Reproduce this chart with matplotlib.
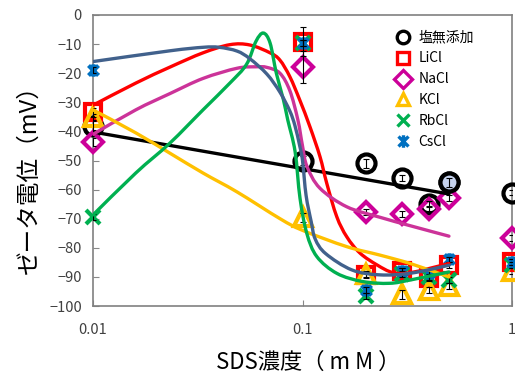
import matplotlib
matplotlib.use('Agg')
import numpy as np
import matplotlib.pyplot as plt
from matplotlib.path import Path
from matplotlib.patches import PathPatch

plt.rcParams['font.family'] = ['Noto Sans CJK JP', 'DejaVu Sans']

# SDS concentration (mM) of the measured points
sds = [0.01, 0.1, 0.2, 0.3, 0.4, 0.5, 1.0]

# zeta potential (mV) of the measured points
zeta_none = [-38, -50, -51, -56, -65, -57.5, -61]
zeta_licl = [-33.5, -9.2, -89.3, -87.8, -90.5, -86, -85]
zeta_nacl = [-43.6, -17.8, -67.7, -68.4, -66.5, -63, -76.6]
zeta_kcl = [-35, -69.5, -89, -96, -94.5, -93, -88]
zeta_rbcl = [-69.4, -9.5, -96.5, -89, -90, -91, -86]
zeta_cscl = [-19, -9.5, -94.5, -88, -88.5, -84, -85]

err_none = [1.5, 1.5, 1.5, 1, 1, 1.5, 1]
err_licl = [1.5, 5, 1, 1, 1, 1, 1]
err_nacl = [1.5, 5.5, 1, 1, 1, 1, 1]
err_kcl = [1, 1.5, 1, 1.5, 1, 1, 1]
err_rbcl = [1, 1, 1, 1, 1, 1, 1]
err_cscl = [1, 1, 1, 1, 1, 1, 1]

# trend curves
fit_none_x = [0.01, 0.087, 0.5]
fit_none_y = [-40.2, -52, -61.5]

fit_licl_x = [0.01, 0.016, 0.0233, 0.0335, 0.045, 0.056, 0.07, 0.078, 0.087,
              0.097, 0.1085, 0.1212, 0.1305, 0.1457, 0.1626, 0.188, 0.227,
              0.27, 0.33, 0.5]
fit_licl_y = [-31, -23.4, -17.9, -13, -10.2, -10.3, -13, -15.5, -21.2,
              -29.2, -38.4, -48.7, -57.8, -69.3, -76.2, -81.8, -85.9,
              -88.5, -88.5, -85.4]

fit_nacl_x = [0.01, 0.016, 0.0233, 0.0335, 0.0487, 0.06, 0.0676, 0.078, 0.087,
              0.095, 0.1, 0.105, 0.121, 0.1626, 0.234, 0.33, 0.5]
fit_nacl_y = [-41, -32.6, -27, -21.8, -18.3, -17.8, -18, -20, -26,
              -36, -45, -52, -59.5, -65.9, -69.5, -72.5, -76]

fit_kcl_x = [0.01, 0.016, 0.0233, 0.0335, 0.0487, 0.0781, 0.1, 0.1626,
             0.234, 0.33, 0.5]
fit_kcl_y = [-32.6, -40.5, -47.5, -54.3, -60.8, -70, -74, -79.6,
             -82.5, -85.5, -90]

fit_rbcl_x = [0.01, 0.016, 0.0233, 0.0335, 0.045, 0.054, 0.06, 0.065, 0.07,
              0.075, 0.081, 0.085, 0.0922, 0.0973, 0.1048, 0.117, 0.146,
              0.194, 0.26, 0.33, 0.5]
fit_rbcl_y = [-68.7, -54.3, -44, -32.6, -23.4, -17, -9, -6.2, -9.6,
              -20, -29, -36, -47, -63, -75, -83, -88.8,
              -91.6, -92.2, -91, -88.3]

fit_cscl_x = [0.01, 0.0233, 0.0335, 0.04, 0.0487, 0.056, 0.0676, 0.078,
              0.087, 0.092, 0.097, 0.1, 0.104, 0.11, 0.115, 0.129, 0.172,
              0.234, 0.33, 0.5]
fit_cscl_y = [-16, -12.3, -11.1, -11.1, -12.4, -15, -20.3, -26.5,
              -33, -38, -45, -50, -62, -71, -77, -82, -87.6,
              -89.3, -88.7, -86]

labels = ['塩無添加', 'LiCl', 'NaCl', 'KCl', 'RbCl', 'CsCl']

star = Path([(-1, -1), (1, 1), (-1, 1), (1, -1), (0, -1.25), (0, 1.25)],
            [Path.MOVETO, Path.LINETO, Path.MOVETO, Path.LINETO,
             Path.MOVETO, Path.LINETO])


def smooth_path(xs, ys):
    # Catmull-Rom curve through the read points, drawn as cubic Bezier (log x)
    u = np.log10(xs)
    y = np.asarray(ys, float)
    n = len(u)
    verts = [(xs[0], y[0])]
    codes = [Path.MOVETO]
    for i in range(n - 1):
        i0, i3 = max(i - 1, 0), min(i + 2, n - 1)
        c1 = (u[i] + (u[i + 1] - u[i0]) / 6, y[i] + (y[i + 1] - y[i0]) / 6)
        c2 = (u[i + 1] - (u[i3] - u[i]) / 6, y[i + 1] - (y[i3] - y[i]) / 6)
        verts += [(10 ** c1[0], c1[1]), (10 ** c2[0], c2[1]), (xs[i + 1], y[i + 1])]
        codes += [Path.CURVE4] * 3
    return Path(verts, codes)


series = [
    (zeta_none, err_none, 'o', 'black', 13, fit_none_x, fit_none_y, 'black'),
    (zeta_licl, err_licl, 's', '#ff0000', 11.5, fit_licl_x, fit_licl_y, '#ff0000'),
    (zeta_nacl, err_nacl, 'D', '#cc0099', 10, fit_nacl_x, fit_nacl_y, '#cc3399'),
    (zeta_kcl, err_kcl, '^', '#ffc000', 13, fit_kcl_x, fit_kcl_y, '#ffc000'),
    (zeta_rbcl, err_rbcl, 'x', '#00b050', 10, fit_rbcl_x, fit_rbcl_y, '#00b050'),
    (zeta_cscl, err_cscl, star, '#0070c0', 9, fit_cscl_x, fit_cscl_y, '#41618c'),
]

fig = plt.figure(figsize=(5.15, 3.74), dpi=100)
ax = fig.add_axes([0.1806, 0.1818, 0.8136, 0.7781])

for (y, e, m, c, ms, fx, fy, fc), lab in zip(series, labels):
    ax.plot(sds, y, linestyle='none', marker=m, markersize=ms,
            markerfacecolor='none', markeredgecolor=c, markeredgewidth=3,
            label=lab, zorder=3, clip_on=False)
    ax.errorbar(sds, y, yerr=e, fmt='none', ecolor='black', elinewidth=0.8,
                capsize=2, capthick=0.8, zorder=4)

# light-filled circle at 0.5 mM
ax.plot(sds[5], zeta_none[5], linestyle='none', marker='o', markersize=13,
        markerfacecolor='#c6d3ee', markeredgecolor='black', markeredgewidth=3,
        zorder=3.5)

for (y, e, m, c, ms, fx, fy, fc) in series:
    ax.add_patch(PathPatch(smooth_path(fx, fy), fill=False, edgecolor=fc,
                           linewidth=2.4, zorder=5, capstyle='round'))

ax.set_xscale('log')
ax.set_xlim(0.01, 1)
ax.set_ylim(-100, 0)
ax.set_yticks(range(-100, 1, 10))
ax.set_xticks([0.01, 0.1, 1])
ax.set_xticklabels(['0.01', '0.1', '1'])
ax.minorticks_off()
ax.tick_params(axis='both', direction='in', length=4, color='#888888',
               labelsize=10.5, labelcolor='#404040')
ax.tick_params(axis='y', pad=8)
ax.tick_params(axis='x', pad=12)
for s in ax.spines.values():
    s.set_color('#808080')
    s.set_linewidth(1.2)

# axis titles placed by figure position
fig.text(29 / 515, 1 - 174 / 374, 'ゼータ電位（mV）', fontsize=17,
         rotation=90, ha='center', va='center')
fig.text(308 / 515, 1 - 362 / 374, 'SDS濃度（ m M ）', fontsize=16,
         ha='center', va='center')

leg = ax.legend(loc='upper right', bbox_to_anchor=(0.935, 0.985), frameon=False,
                fontsize=10, handlelength=1.0, handletextpad=0.6,
                labelspacing=0.5, borderaxespad=0.4)
for h in leg.legend_handles:
    h.set_markersize(9)
    h.set_markeredgewidth(2.4)

fig.savefig('out.png', dpi=100)
